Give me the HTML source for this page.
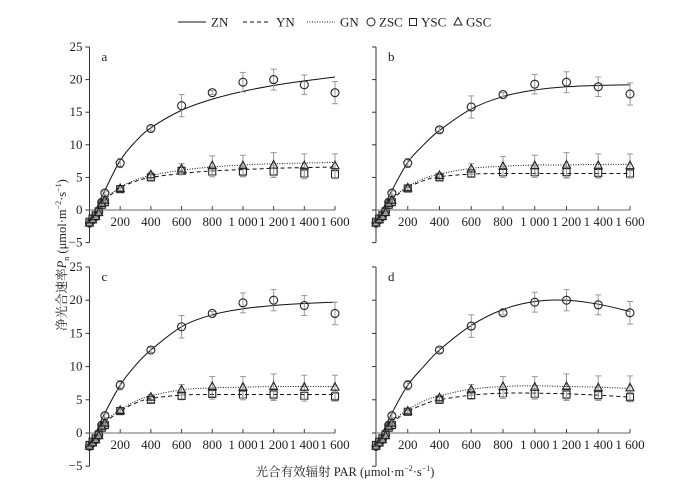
<!DOCTYPE html>
<html><head><meta charset="utf-8"><style>
body{margin:0;background:#fff;}
svg text{font-family:"Liberation Serif",serif;fill:#222;}
svg text.cjk{font-family:"Liberation Serif","Noto Serif CJK SC",serif;}
</style></head><body>
<svg id="chart" width="678" height="497" viewBox="0 0 678 497" xmlns="http://www.w3.org/2000/svg">
<g id="legend"></g>
<g id="panels"></g>
<text class="cjk" x="345" y="476" font-size="12.5" text-anchor="middle">光合有效辐射 PAR (μmol·m<tspan font-size="8" dy="-5">−2</tspan><tspan dy="5">·s</tspan><tspan font-size="8" dy="-5">−1</tspan><tspan dy="5">)</tspan></text>
<text class="cjk" transform="translate(66,255) rotate(-90)" font-size="12.5" text-anchor="middle">净光合速率<tspan font-style="italic">P</tspan><tspan font-size="8" dy="3">n</tspan><tspan dy="-3"> (μmol·m</tspan><tspan font-size="8" dy="-5">−2</tspan><tspan dy="5">·s</tspan><tspan font-size="8" dy="-5">−1</tspan><tspan dy="5">)</tspan></text>
</svg>
<script>
const parPoints=[0,20,40,60,80,100,200,400,600,800,1000,1200,1400,1600];
const parFit=[0,50,100,200,300,400,600,800,1000,1200,1400,1600];
const xTicks=[200,400,600,800,1000,1200,1400,1600];
const xTickLabels=["200","400","600","800","1 000","1 200","1 400","1 600"];
const yTicks=[-5,0,5,10,15,20,25];
const panelNames=["a","b","c","d"];
const zsc=[
[-2,-1.5,-1,-0.3,1.2,2.6,7.2,12.5,16,18,19.6,20,19.2,18],
[-2,-1.5,-1,-0.3,1.2,2.6,7.2,12.3,15.8,17.7,19.3,19.6,18.9,17.8],
[-2,-1.5,-1,-0.3,1.2,2.6,7.2,12.5,16,18,19.6,20,19.2,18],
[-2,-1.5,-1,-0.3,1.2,2.6,7.2,12.5,16.1,18.1,19.7,20,19.3,18.1]];
const zscErr=[0.3,0.3,0.3,0.3,0.3,0.3,0.7,0.4,1.7,0.3,1.5,1.6,1.5,1.7];
const ysc=[
[-1.8,-1.3,-0.8,-0.2,0.8,1.2,3.2,5,6,5.9,5.9,5.9,5.6,5.5],
[-1.8,-1.3,-0.8,-0.2,0.8,1.2,3.3,5,5.6,5.8,5.8,5.8,5.7,5.6],
[-1.8,-1.3,-0.8,-0.2,0.8,1.2,3.3,5,5.6,5.9,5.8,5.8,5.6,5.5],
[-1.8,-1.3,-0.8,-0.2,0.8,1.2,3.2,5,5.7,6,5.9,5.8,5.7,5.4]];
const yscErr=[0.3,0.3,0.3,0.3,0.3,0.3,0.3,0.4,0.6,0.8,0.8,0.9,0.8,0.7];
const gsc=[
[-2,-1.5,-1,-0.4,1,1.5,3.3,5.4,6.3,6.8,6.8,6.9,6.8,6.8],
[-2,-1.5,-1,-0.4,1,1.5,3.4,5.3,6.3,6.7,6.8,6.9,6.8,6.8],
[-2,-1.5,-1,-0.4,1,1.5,3.4,5.4,6.5,7,6.9,7,6.9,6.9],
[-2,-1.5,-1,-0.4,1,1.5,3.3,5.3,6.5,7,6.9,7,6.8,6.8]];
const gscErr=[0.3,0.3,0.3,0.3,0.3,0.3,0.3,0.4,0.8,1.5,1.6,1.9,1.8,1.8];
const zn=[
[-2.2,0.5,3,7.6,10.5,12.6,15.3,17,18.2,19.1,19.8,20.4],
[-2.2,0.5,3,7.3,10,12.2,15.5,17.4,18.4,18.9,19.1,19.2],
[-2.2,0.5,3,7.2,10.2,12.5,16,17.8,18.7,19.2,19.5,19.7],
[-2.2,0.5,3,7.2,10,12.5,16.2,18.6,19.8,20,19.4,18.3]];
const yn=[
[-2,-0.3,1.5,3.4,4.4,5,5.6,6,6.2,6.4,6.5,6.6],
[-2,-0.2,1.6,3.4,4.5,5.1,5.5,5.6,5.6,5.6,5.6,5.6],
[-2,-0.2,1.5,3.3,4.5,5.2,5.7,5.8,5.8,5.8,5.8,5.8],
[-2,-0.2,1.5,3.2,4.3,5,5.7,6,6,5.9,5.7,5.4]];
const gn=[
[-2,-0.2,1.6,3.5,4.6,5.3,6.1,6.6,6.9,7.1,7.2,7.3],
[-2,-0.1,1.7,3.6,4.8,5.5,6.4,6.7,6.9,6.9,7,7],
[-2,-0.1,1.7,3.5,4.8,5.6,6.5,6.8,6.9,7,7,7],
[-2,-0.1,1.7,3.5,4.8,5.6,6.6,7,7.1,7,6.9,6.7]];

const NS="http://www.w3.org/2000/svg";
const layout=[{x0:89.5,x1:335,y25:47,y0:210,labels:true},{x0:376,x1:630,y25:47,y0:210,labels:false},
{x0:89.5,x1:335,y25:267,y0:433,labels:true},{x0:376,x1:630,y25:267,y0:433,labels:false}];
function mk(tag,attrs,parent){const e=document.createElementNS(NS,tag);for(const k in attrs)e.setAttribute(k,attrs[k]);parent.appendChild(e);return e;}
function smooth(pts){let d="M"+pts[0][0]+","+pts[0][1];for(let i=0;i<pts.length-1;i++){const p0=pts[Math.max(i-1,0)],p1=pts[i],p2=pts[i+1],p3=pts[Math.min(i+2,pts.length-1)];
d+=" C"+(p1[0]+(p2[0]-p0[0])/6)+","+(p1[1]+(p2[1]-p0[1])/6)+" "+(p2[0]-(p3[0]-p1[0])/6)+","+(p2[1]-(p3[1]-p1[1])/6)+" "+p2[0]+","+p2[1];}return d;}
const panels=document.getElementById('panels');
layout.forEach((L,pi)=>{
 const g=mk('g',{},panels);
 
 
 const xs=v=>L.x0+(L.x1-L.x0)*v/1600;
 const ys=v=>L.y0-(L.y0-L.y25)*v/25;
 const yax=mk('line',{x1:L.x0,x2:L.x0,y1:ys(25),y2:ys(-5),stroke:'#333','stroke-width':1},g);
 
 
 const xax=mk('line',{x1:L.x0,x2:L.x1,y1:ys(0),y2:ys(0),stroke:'#888','stroke-width':1.2},g);
 
 
 yTicks.forEach(t=>{mk('line',{x1:L.x0-4,x2:L.x0,y1:ys(t),y2:ys(t),stroke:'#333'},g);
  if(L.labels){const tx=mk('text',{x:L.x0-7,y:ys(t)+4,'font-size':13,'text-anchor':'end'},g);tx.textContent=t<0?'−'+(-t):String(t);
  
  }});
 xTicks.forEach((t,i)=>{mk('line',{x1:xs(t),x2:xs(t),y1:ys(0),y2:ys(0)-4,stroke:'#444'},g);
  const tx=mk('text',{x:xs(t),y:ys(0)+16,'font-size':13,'text-anchor':'middle'},g);tx.textContent=xTickLabels[i];
  
  });
 const lab=mk('text',{x:L.x0+12,y:ys(25)+14,'font-size':13},g);lab.textContent=panelNames[pi];
 
 
 [[zn,'none','zn-line'],[yn,'4,3','yn-line'],[gn,'1,1.5','gn-line']].forEach(([arr,dash,nm])=>{
  const p=mk('path',{d:smooth(parFit.map((x,i)=>[xs(x),ys(arr[pi][i])])),fill:'none',stroke:'#111','stroke-width':1,'stroke-dasharray':dash},g);
  
  });
 [[zsc,zscErr,'circle','zsc-point'],[ysc,yscErr,'square','ysc-point'],[gsc,gscErr,'triangle','gsc-point']].forEach(([arr,err,shape,nm])=>{
  parPoints.forEach((x,i)=>{const cx=xs(x),cy=ys(arr[pi][i]),e=(L.y0-L.y25)*err[i]/25;
   mk('line',{x1:cx,x2:cx,y1:cy-e,y2:cy+e,stroke:'#999'},g);
   mk('line',{x1:cx-3,x2:cx+3,y1:cy-e,y2:cy-e,stroke:'#999'},g);
   mk('line',{x1:cx-3,x2:cx+3,y1:cy+e,y2:cy+e,stroke:'#999'},g);
   let m;
   if(shape==='circle')m=mk('circle',{cx:cx,cy:cy,r:4,fill:'none',stroke:'#222','stroke-width':1.1},g);
   else if(shape==='square')m=mk('rect',{x:cx-3.5,y:cy-3.5,width:7,height:7,fill:'none',stroke:'#222','stroke-width':1.1},g);
   else m=mk('polygon',{points:`${cx},${cy-4.5} ${cx-4},${cy+3} ${cx+4},${cy+3}`,fill:'none',stroke:'#222','stroke-width':1.1},g);
   
   });});
});
const lg=document.getElementById('legend');
[['ZN','none',178],['YN','4,3',243],['GN','1,1.5',307]].forEach(([t,d,x])=>{
 const l=mk('line',{x1:x,x2:x+28,y1:22,y2:22,stroke:'#111','stroke-dasharray':d},lg);
 
 
 const tx=mk('text',{x:x+33,y:26.5,'font-size':13},lg);tx.textContent=t;
 
 });
mk('circle',{cx:371,cy:22,r:4,fill:'none',stroke:'#222'},lg);
mk('rect',{x:409.5,y:18.5,width:7,height:7,fill:'none',stroke:'#222'},lg);
mk('polygon',{points:'458,17.5 454,25 462,25',fill:'none',stroke:'#222'},lg);
[['ZSC',379],['YSC',421],['GSC',466]].forEach(([t,x])=>{const tx=mk('text',{x:x,y:26.5,'font-size':13},lg);tx.textContent=t;
 
 });
</script>
</body></html>
